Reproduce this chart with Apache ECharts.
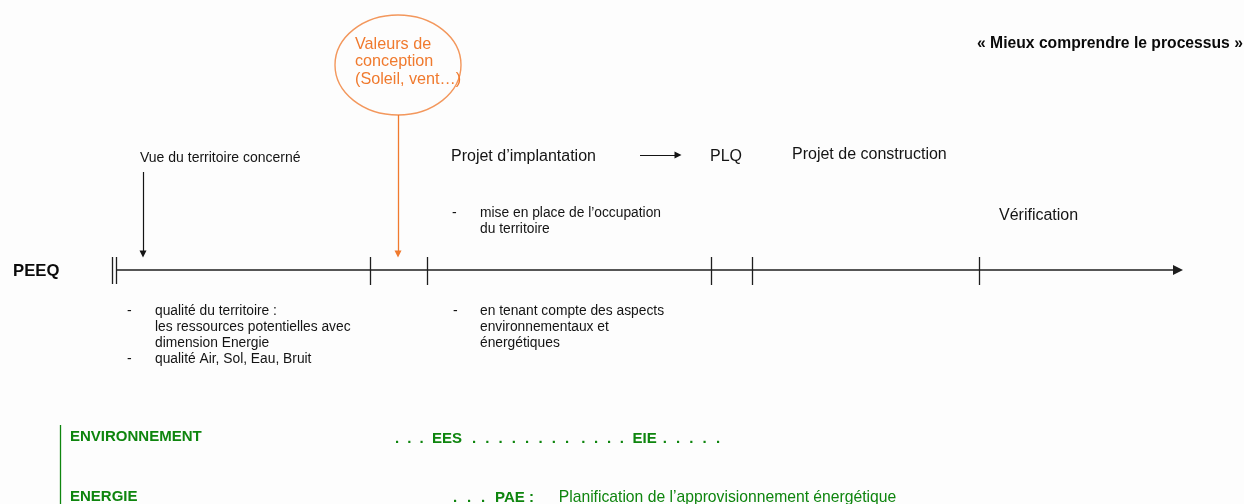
<!DOCTYPE html>
<html>
<head>
<meta charset="utf-8">
<script src="https://cdn.jsdelivr.net/npm/echarts@6/dist/echarts.min.js"></script>
<style>
html,body{margin:0;padding:0;background:#fdfdfd;}
#chart{width:1244px;height:504px;}
</style>
</head>
<body>
<div id="chart"></div>
<script>
// ---- data ----
const titleText = '« Mieux comprendre le processus »';
const processName = 'PEEQ';
const stageLabels = ['Vue du territoire concerné', 'Projet d’implantation', 'PLQ', 'Projet de construction', 'Vérification'];
const stageX = [140, 451, 710, 792, 999];
const stageY = [158, 157, 157, 155, 216];
const stageSize = [14, 16, 16, 16, 16];
const timelineStart = 116;
const timelineEnd = 1178;
const timelineTicks = [370, 427, 711, 752, 979];
const designValuesLines = ['Valeurs de', 'conception', '(Soleil, vent…)'];
const designValuesCenter = [398, 65];
const designValuesRadius = [63, 50];
const belowNotes = [
  ['qualité du territoire :', 'les ressources potentielles avec', 'dimension Energie', 'qualité Air, Sol, Eau, Bruit'],
  ['en tenant compte des aspects', 'environnementaux et', 'énergétiques']
];
const aboveNote = ['mise en place de l’occupation', 'du territoire'];
const domainLabels = ['ENVIRONNEMENT', 'ENERGIE'];
const envSteps = ['EES', 'EIE'];
const energyStep = ['PAE', 'Planification de l’approvisionnement énergétique'];

// ---- styles ----
const FONT = '"Liberation Sans", Arial, sans-serif';
const INK = '#141414';
const ORANGE = '#f07a2e';
const GREEN = '#0e850e';

function textItem(x, y, text, opts) {
  return {
    value: [x, y],
    label: Object.assign({
      show: true, position: 'right', distance: 0,
      formatter: text, color: INK, fontFamily: FONT, fontSize: 14
    }, opts || {})
  };
}

const texts = [];
texts.push(textItem(977, 44, titleText, {fontWeight: 'bold', fontSize: 15.7, color: '#0a0a0a'}));
texts.push(textItem(13, 271, processName, {fontWeight: 'bold', fontSize: 16.7, color: '#0a0a0a'}));
stageLabels.forEach((s, i) => texts.push(textItem(stageX[i], stageY[i], s, {fontSize: stageSize[i]})));
texts.push(textItem(355, 62, designValuesLines.join('\n'), {color: ORANGE, fontSize: 16.2, lineHeight: 17.5}));
// above note
texts.push(textItem(452, 213, '-', {fontSize: 14}));
texts.push(textItem(480, 221, aboveNote.join('\n'), {fontSize: 13.8, lineHeight: 16}));
// below notes
texts.push(textItem(127, 311, '-', {fontSize: 14}));
texts.push(textItem(127, 359, '-', {fontSize: 14}));
texts.push(textItem(155, 335, belowNotes[0].join('\n'), {fontSize: 13.8, lineHeight: 16}));
texts.push(textItem(453, 311, '-', {fontSize: 14}));
texts.push(textItem(480, 327, belowNotes[1].join('\n'), {fontSize: 13.8, lineHeight: 16}));
// domains
texts.push(textItem(70, 437, domainLabels[0], {fontWeight: 'bold', fontSize: 15, color: GREEN}));
texts.push(textItem(70, 497, domainLabels[1], {fontWeight: 'bold', fontSize: 15, color: GREEN}));

function dots(n, style) { let s = ''; for (let i = 0; i < n; i++) s += '{' + style + '|.}'; return s; }
const envLine = dots(3, 'd') + '{b|' + envSteps[0] + '}{g1| }' + dots(8, 'e') + '{g2| }' + dots(4, 'f') + '{b|' + envSteps[1] + '}{g3| }' + dots(5, 'e');
texts.push(textItem(395, 439, envLine, {
  rich: {
    d: {width: 12.3, color: GREEN, fontSize: 15, fontWeight: 'bold', fontFamily: FONT},
    e: {width: 13.3, color: GREEN, fontSize: 15, fontWeight: 'bold', fontFamily: FONT},
    f: {width: 12.8, color: GREEN, fontSize: 15, fontWeight: 'bold', fontFamily: FONT},
    b: {color: GREEN, fontSize: 15, fontWeight: 'bold', fontFamily: FONT},
    g1: {width: 10, fontSize: 15},
    g2: {width: 3, fontSize: 15},
    g3: {width: 6, fontSize: 15}
  }
}));
const energyLine = dots(3, 'd') + '{b|' + energyStep[0] + '}{c| :}{t|' + energyStep[1] + '}';
texts.push(textItem(453, 498, energyLine, {
  rich: {
    d: {width: 14, color: GREEN, fontSize: 15, fontWeight: 'bold', fontFamily: FONT},
    b: {color: GREEN, fontSize: 15, fontWeight: 'bold', fontFamily: FONT},
    c: {width: 34, color: GREEN, fontSize: 15, fontWeight: 'bold', fontFamily: FONT},
    t: {color: GREEN, fontSize: 15.7, fontFamily: FONT}
  }
}));

// lines
const plainLines = [
  {coords: [[112, 257], [112, 284]]},
  {coords: [[116, 257], [116, 284]]}
];
timelineTicks.forEach(x => plainLines.push({coords: [[x, 257], [x, 285]]}));

const option = {
  backgroundColor: '#fdfdfd',
  animation: false,
  grid: {left: 0, right: 0, top: 0, bottom: 0},
  xAxis: {type: 'value', min: 0, max: 1244, show: false},
  yAxis: {type: 'value', min: 0, max: 504, inverse: true, show: false},
  series: [
    {
      type: 'custom', coordinateSystem: 'cartesian2d', silent: true,
      data: [[designValuesCenter[0], designValuesCenter[1], designValuesRadius[0], designValuesRadius[1]]],
      encode: {x: 0, y: 1},
      renderItem: function (params, api) {
        const c = api.coord([api.value(0), api.value(1)]);
        const s = api.size([api.value(2), api.value(3)]);
        return {type: 'ellipse', shape: {cx: c[0], cy: c[1], rx: s[0], ry: s[1]},
          style: {fill: 'none', stroke: '#f3975c', lineWidth: 1.4}};
      }
    },
    {
      type: 'lines', coordinateSystem: 'cartesian2d', silent: true, symbol: 'none',
      lineStyle: {color: '#1e1e1e', width: 1.3, opacity: 1},
      data: plainLines
    },
    {
      type: 'lines', coordinateSystem: 'cartesian2d', silent: true,
      symbol: ['none', 'triangle'], symbolSize: [9, 10],
      lineStyle: {color: '#1e1e1e', width: 1.7, opacity: 1},
      data: [{coords: [[timelineStart, 270], [timelineEnd, 270]]}]
    },
    {
      type: 'lines', coordinateSystem: 'cartesian2d', silent: true,
      symbol: ['none', 'triangle'], symbolSize: [6, 7],
      lineStyle: {color: '#141414', width: 1.2, opacity: 1},
      data: [
        {coords: [[143, 172], [143, 254]]},
        {coords: [[640, 155], [678, 155]]}
      ]
    },
    {
      type: 'lines', coordinateSystem: 'cartesian2d', silent: true,
      symbol: ['none', 'triangle'], symbolSize: [6, 7],
      lineStyle: {color: ORANGE, width: 1.3, opacity: 1},
      data: [{coords: [[398, 115], [398, 254]]}]
    },
    {
      type: 'lines', coordinateSystem: 'cartesian2d', silent: true, symbol: 'none',
      lineStyle: {color: GREEN, width: 1.3, opacity: 1},
      data: [{coords: [[60, 425], [60, 504]]}]
    },
    {
      type: 'scatter', silent: true, symbolSize: 0,
      itemStyle: {opacity: 1},
      data: texts
    }
  ]
};

const chart = echarts.init(document.getElementById('chart'), null, {renderer: 'canvas'});
chart.setOption(option);
</script>
</body>
</html>
